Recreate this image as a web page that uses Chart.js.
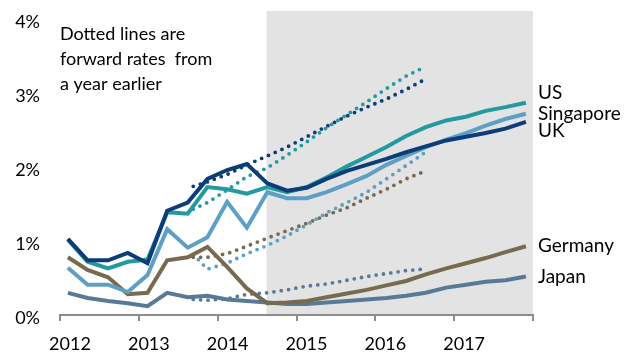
<!DOCTYPE html>
<html>
<head>
<meta charset="utf-8">
<script src="https://cdn.jsdelivr.net/npm/chart.js@4.4.1/dist/chart.umd.min.js"></script>
<style>
  html, body { margin: 0; padding: 0; background: #fff; }
</style>
</head>
<body>
<canvas id="chart" width="642" height="354"></canvas>
<script>
// quarterly observations (decimal years)
const quarters = [2012.10, 2012.35, 2012.61, 2012.86, 2013.11, 2013.36, 2013.62, 2013.87,
  2014.12, 2014.37, 2014.63, 2014.88, 2015.13, 2015.38, 2015.64, 2015.89,
  2016.14, 2016.39, 2016.64, 2016.90, 2017.15, 2017.40, 2017.65, 2017.91];

const ukRates = [1.03, 0.74, 0.74, 0.84, 0.70, 1.41, 1.52, 1.84, 1.96, 2.04, 1.78, 1.68,
  1.72, 1.84, 1.95, 2.03, 2.11, 2.20, 2.28, 2.36, 2.41, 2.46, 2.52, 2.61];
const usRates = [1.02, 0.72, 0.63, 0.72, 0.75, 1.39, 1.37, 1.73, 1.70, 1.64, 1.73, 1.66,
  1.73, 1.86, 2.01, 2.14, 2.27, 2.42, 2.54, 2.63, 2.68, 2.76, 2.81, 2.87];
const sgRates = [0.64, 0.41, 0.41, 0.31, 0.54, 1.16, 0.91, 1.05, 1.53, 1.18, 1.66, 1.58,
  1.58, 1.66, 1.77, 1.88, 2.03, 2.15, 2.27, 2.37, 2.46, 2.56, 2.65, 2.72];
const deRates = [0.78, 0.61, 0.51, 0.28, 0.30, 0.74, 0.78, 0.92, 0.65, 0.36, 0.16, 0.17,
  0.19, 0.24, 0.29, 0.34, 0.40, 0.46, 0.55, 0.63, 0.70, 0.77, 0.85, 0.93];
const jpRates = [0.30, 0.23, 0.19, 0.16, 0.12, 0.30, 0.24, 0.26, 0.21, 0.19, 0.17, 0.15,
  0.15, 0.17, 0.19, 0.21, 0.23, 0.26, 0.30, 0.37, 0.41, 0.45, 0.47, 0.52];

// forward curves priced a year earlier
const fwdQuarters = [2013.69, 2013.87, 2014.12, 2014.37, 2014.63, 2014.88, 2015.13,
  2015.38, 2015.64, 2015.89, 2016.14, 2016.39, 2016.62];
const ukForward = [1.74, 1.80, 1.90, 2.03, 2.15, 2.27, 2.41, 2.55, 2.69, 2.81, 2.92, 3.05, 3.18];
const usForward = [1.43, 1.52, 1.69, 1.87, 1.99, 2.16, 2.34, 2.53, 2.71, 2.88, 3.06, 3.23, 3.35];
const sgForward = [0.82, 0.62, 0.70, 0.83, 0.94, 1.07, 1.22, 1.38, 1.52, 1.66, 1.84, 2.02, 2.19];
const deForward = [0.78, 0.78, 0.83, 0.93, 1.04, 1.14, 1.24, 1.35, 1.45, 1.58, 1.70, 1.84, 1.94];
const jpForward = [0.21, 0.20, 0.22, 0.28, 0.30, 0.34, 0.39, 0.42, 0.47, 0.52, 0.56, 0.60, 0.62];

const seriesNames = ["UK", "US", "Singapore", "Germany", "Japan"];
const forecastFrom = 2014.62;

const colors = ["#0c3d78", "#2399a0", "#5e9fc5", "#786a4e", "#587a96"];
const FONT = "Lato, 'Open Sans', sans-serif";

function points(xs, ys) {
  return xs.map((x, i) => ({ x: x, y: ys[i] }));
}

function solid(label, values, color) {
  return {
    label: label,
    data: points(quarters, values),
    borderColor: color,
    borderWidth: 4,
    pointRadius: 0,
    tension: 0,
    order: 0
  };
}

function dotted(label, values, color) {
  return {
    label: label + " forward",
    data: points(fwdQuarters, values),
    borderColor: color,
    borderWidth: 3.8,
    borderDash: [0, 7.4],
    borderCapStyle: "round",
    pointRadius: 0,
    tension: 0,
    order: 1
  };
}

// grey shading over the forecast period
const bandPlugin = {
  id: "forecastBand",
  beforeDraw(chart) {
    const { ctx, chartArea, scales } = chart;
    const x0 = scales.x.getPixelForValue(forecastFrom);
    ctx.save();
    ctx.fillStyle = "#e3e3e3";
    ctx.fillRect(x0, chartArea.top, chartArea.right - x0, chartArea.bottom - chartArea.top);
    ctx.restore();
  }
};

// country names at the line ends, note text top left
const labelPlugin = {
  id: "lineLabels",
  afterDatasetsDraw(chart) {
    const { ctx, chartArea, scales } = chart;
    const nudge = { UK: 9, US: -10 };
    ctx.save();
    ctx.fillStyle = "#000";
    ctx.font = "19px " + FONT;
    ctx.textAlign = "left";
    ctx.textBaseline = "middle";
    chart.data.datasets.slice(0, 5).forEach((ds, i) => {
      const last = ds.data[ds.data.length - 1].y;
      const y = scales.y.getPixelForValue(last) + (nudge[seriesNames[i]] || 0);
      ctx.fillText(seriesNames[i], chartArea.right + 5, y);
    });
    ctx.font = "18px " + FONT;
    const note = ["Dotted lines are", "forward rates  from", "a year earlier"];
    note.forEach((line, i) => {
      ctx.fillText(line, chartArea.left, chartArea.top + 23 + i * 25);
    });
    ctx.restore();
  }
};

const datasets = [
  solid("UK", ukRates, colors[0]),
  solid("US", usRates, colors[1]),
  solid("Singapore", sgRates, colors[2]),
  solid("Germany", deRates, colors[3]),
  solid("Japan", jpRates, colors[4]),
  dotted("UK", ukForward, colors[0]),
  dotted("US", usForward, colors[1]),
  dotted("Singapore", sgForward, colors[2]),
  dotted("Germany", deForward, colors[3]),
  dotted("Japan", jpForward, colors[4])
];

new Chart(document.getElementById("chart"), {
  type: "line",
  data: { datasets: datasets },
  plugins: [bandPlugin, labelPlugin],
  options: {
    responsive: false,
    animation: false,
    devicePixelRatio: 1,
    layout: { padding: { top: 11, right: 109, left: 0, bottom: 0 } },
    plugins: {
      legend: { display: false },
      tooltip: { enabled: false }
    },
    scales: {
      x: {
        type: "linear",
        min: 2012,
        max: 2018,
        afterFit: (scale) => {
          scale.height = 39;
          scale.paddingLeft = 0;
          scale.paddingRight = 0;
        },
        grid: {
          drawOnChartArea: false,
          drawTicks: true,
          tickLength: 6,
          color: "#8c8c8c",
          lineWidth: 2
        },
        border: { display: true, color: "#8c8c8c", width: 2 },
        ticks: {
          stepSize: 1,
          autoSkip: false,
          maxRotation: 0,
          labelOffset: 10,
          padding: 12,
          color: "#000",
          font: { family: FONT, size: 18 },
          callback: (v) => (v < 2018 ? String(v) : "")
        }
      },
      y: {
        min: 0,
        max: 4.11,
        afterFit: (scale) => {
          scale.width = 60;
          scale.paddingTop = 0;
          scale.paddingBottom = 0;
        },
        grid: { display: false },
        border: { display: false },
        ticks: {
          stepSize: 1,
          includeBounds: false,
          padding: 12,
          labelOffset: 3,
          color: "#000",
          font: { family: FONT, size: 18 },
          callback: (v) => v + "%"
        }
      }
    }
  }
});
</script>
</body>
</html>
